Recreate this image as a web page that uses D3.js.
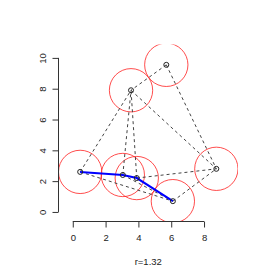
<!DOCTYPE html>
<html>
<head>
<meta charset="utf-8">
<script src="https://cdn.jsdelivr.net/npm/d3@7"></script>
<style>
  body { margin: 0; background: #fff; }
  text { font-family: "Liberation Sans", Arial, sans-serif; fill: #222; }
</style>
</head>
<body>
<div id="chart"></div>
<script>
// points
const px = [0.45, 3.05, 3.9, 6.1, 8.75, 3.55, 5.7];
const py = [2.6, 2.4, 2.2, 0.7, 2.8, 7.9, 9.55];
const radius = 1.32;

// dashed edges between point indices
const edges = [[0, 5], [0, 3], [1, 3], [1, 5], [2, 5], [2, 4], [5, 4], [6, 5], [6, 4], [3, 4]];
// the blue path
const pathIdx = [0, 1, 2, 3];

const xTicks = [0, 2, 4, 6, 8];
const yTicks = [0, 2, 4, 6, 8, 10];
const label = "r=" + radius;

const width = 273, height = 279;
const svg = d3.select("#chart").append("svg")
  .attr("width", width).attr("height", height);

// plot region = data range +/- radius (like xaxs="i")
const x = d3.scaleLinear()
  .domain([d3.min(px) - radius, d3.max(px) + radius])
  .range([58.5, 238]);
const y = d3.scaleLinear()
  .domain([d3.min(py) - radius, d3.max(py) + radius])
  .range([221.5, 44.5]);
const rPx = x(radius) - x(0);

svg.append("clipPath").attr("id", "plotclip")
  .append("rect")
  .attr("x", x.range()[0]).attr("y", y.range()[1])
  .attr("width", x.range()[1] - x.range()[0])
  .attr("height", y.range()[0] - y.range()[1]);

const plot = svg.append("g").attr("clip-path", "url(#plotclip)");

// red circles
plot.selectAll("circle.big")
  .data(px)
  .join("circle")
  .attr("class", "big")
  .attr("cx", (d, i) => x(px[i]))
  .attr("cy", (d, i) => y(py[i]))
  .attr("r", rPx)
  .attr("fill", "none")
  .attr("stroke", "#ff2020")
  .attr("stroke-opacity", 0.8)
  .attr("stroke-width", 1);

// dashed edges
plot.selectAll("line.edge")
  .data(edges)
  .join("line")
  .attr("class", "edge")
  .attr("x1", d => x(px[d[0]]))
  .attr("y1", d => y(py[d[0]]))
  .attr("x2", d => x(px[d[1]]))
  .attr("y2", d => y(py[d[1]]))
  .attr("stroke", "#444")
  .attr("stroke-width", 1)
  .attr("stroke-dasharray", "3,3");

// blue path
plot.append("path")
  .datum(pathIdx)
  .attr("d", d3.line().x(i => x(px[i])).y(i => y(py[i])))
  .attr("fill", "none")
  .attr("stroke", "#0000ff")
  .attr("stroke-width", 2);

// point markers
plot.selectAll("circle.pt")
  .data(px)
  .join("circle")
  .attr("class", "pt")
  .attr("cx", (d, i) => x(px[i]))
  .attr("cy", (d, i) => y(py[i]))
  .attr("r", 2.5)
  .attr("fill", "none")
  .attr("stroke", "#222")
  .attr("stroke-width", 1);

// x axis
const xAxis = svg.append("g")
  .attr("transform", `translate(0,${y.range()[0]})`)
  .call(d3.axisBottom(x).tickValues(xTicks).tickSize(6).tickPadding(7).tickSizeOuter(0));
xAxis.select(".domain")
  .attr("d", `M${x(xTicks[0])},0H${x(xTicks[xTicks.length - 1])}`);

// y axis
const yAxis = svg.append("g")
  .attr("transform", `translate(${x.range()[0]},0)`)
  .call(d3.axisLeft(y).tickValues(yTicks).tickSize(6).tickPadding(0).tickSizeOuter(0));
yAxis.select(".domain")
  .attr("d", `M0,${y(yTicks[0])}V${y(yTicks[yTicks.length - 1])}`);
yAxis.selectAll(".tick text")
  .attr("x", 0).attr("dy", 0)
  .attr("text-anchor", "middle")
  .attr("transform", "translate(-13,0) rotate(-90)");

svg.selectAll(".domain, .tick line").attr("stroke", "#333");
svg.selectAll(".tick text")
  .style("font-family", "'Liberation Sans', Arial, sans-serif")
  .style("font-size", "9.5px")
  .attr("fill", "#222");

// x label centred on the plot region
svg.append("text")
  .attr("x", (x.range()[0] + x.range()[1]) / 2)
  .attr("y", 265)
  .attr("text-anchor", "middle")
  .style("font-size", "9.5px")
  .text(label);
</script>
</body>
</html>
